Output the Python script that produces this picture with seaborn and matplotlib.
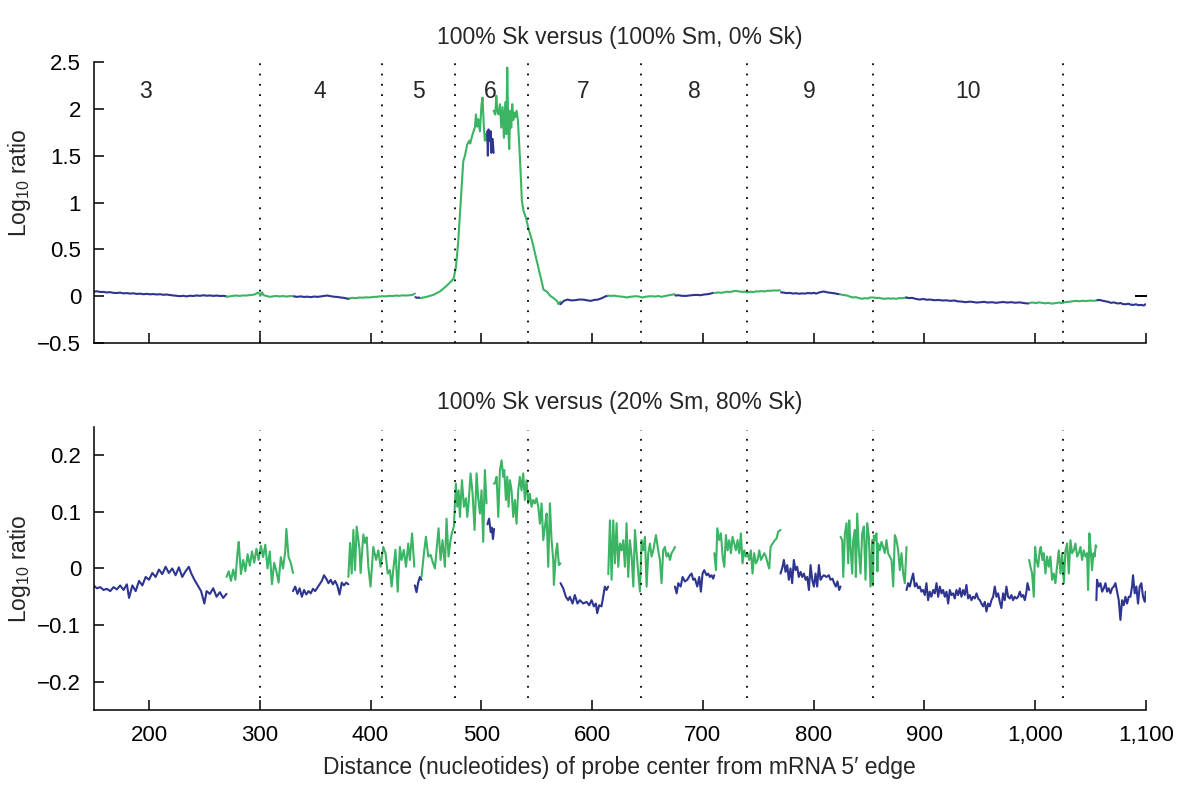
import pandas as pd
import seaborn as sns
import matplotlib.pyplot as plt

# ---- top panel: 100% Sk vs (100% Sm, 0% Sk), one list pair per probe segment ----
top_x1 = [150, 153, 156, 159, 162, 165, 168, 171, 174, 177, 180, 183, 186, 189, 192, 195, 198, 201, 204, 207,
          210, 213, 216, 219, 222, 225, 228, 231, 234, 237, 240, 243, 246, 249, 252, 255, 258, 261, 264, 267, 269.5]
top_y1 = [0.049, 0.052, 0.045, 0.046, 0.040, 0.043, 0.035, 0.034, 0.038, 0.030, 0.033, 0.028, 0.031, 0.024, 0.027,
          0.021, 0.025, 0.020, 0.023, 0.018, 0.021, 0.015, 0.018, 0.012, 0.008, 0.004, 0.000, 0.004, -0.002, 0.005,
          0.002, 0.008, 0.004, 0.010, 0.005, 0.008, 0.003, 0.007, 0.002, 0.004, 0.000]
top_x2 = [270, 273, 276, 279, 282, 285, 288, 291, 294, 296, 298, 299.5, 300.5, 302, 303.5, 306, 309, 312, 315, 318,
          321, 324, 327, 331]
top_y2 = [-0.007, -0.002, 0.004, 0.007, 0.003, 0.008, 0.007, 0.012, 0.015, 0.021, 0.038, 0.030, 0.003, 0.042, 0.010,
          0.003, -0.007, -0.002, 0.003, -0.003, 0.002, -0.004, 0.001, 0.000]
top_x3 = [331, 334, 337, 340, 343, 346, 349, 352, 355, 358, 361, 364, 367, 370, 373, 376, 379, 380.5]
top_y3 = [-0.003, -0.007, -0.002, -0.008, -0.005, -0.010, -0.004, -0.007, -0.003, 0.003, 0.007, 0.000, -0.006,
          -0.008, -0.014, -0.018, -0.026, -0.028]
top_x4 = [381, 384, 387, 390, 393, 396, 399, 402, 405, 408, 411, 414, 417, 420, 423, 426, 429, 432, 435, 438, 440]
top_y4 = [-0.021, -0.018, -0.021, -0.014, -0.016, -0.012, -0.014, -0.008, -0.007, -0.003, 0.000, -0.002, 0.004,
          0.002, 0.007, 0.004, 0.009, 0.007, 0.010, 0.014, 0.028]
top_x5 = [440.5, 442, 443.5, 445]
top_y5 = [-0.010, -0.018, -0.014, -0.021]
top_x6 = [445.1, 450.6, 456.6, 462.6, 468.6, 473.1, 475, 477.1, 479.2, 480.7, 482.2, 483.7, 485.2, 487.3, 489.1,
          490, 491.2, 492.7, 494.2, 495.1, 496.3, 497.2, 498.7, 500.2, 501.1, 502.3, 503.2, 504.1, 505.3]
top_y6 = [-0.020, -0.007, 0.014, 0.050, 0.110, 0.163, 0.19, 0.31, 0.59, 0.875, 1.16, 1.44, 1.50, 1.62, 1.66,
          1.63, 1.69, 1.75, 1.80, 1.94, 1.81, 1.89, 1.76, 2.05, 2.12, 1.80, 1.66, 1.73, 1.66]
top_x7 = [505.3, 505.9, 506.5, 507.2, 507.8, 508.4, 509.0, 510.2, 511.1]
top_y7 = [1.76, 1.50, 1.78, 1.75, 1.66, 1.76, 1.53, 1.68, 1.53]
top_x8 = [511.1, 512.6, 513.5, 514.4, 515.6, 516.8, 518.0, 519.2, 520.4, 521.6, 522.5, 523.4, 524.3, 525.2, 526.1,
          527.0, 527.9, 528.8, 529.7, 530.6, 531.8, 533.0, 534.2, 535.4, 536.6, 538.1, 540.2, 542.6, 545.6, 548.6,
          551.6, 554.6, 556.1, 559.1, 562.2, 565.2, 568.2, 569.7, 571.2]
top_y8 = [1.98, 1.94, 2.14, 1.98, 1.94, 2.05, 1.80, 2.02, 1.69, 2.07, 1.73, 2.44, 1.80, 1.57, 1.98,
          1.80, 2.05, 1.88, 1.96, 1.91, 1.98, 1.88, 1.62, 1.34, 1.02, 0.91, 0.84, 0.72, 0.60, 0.45,
          0.30, 0.15, 0.07, 0.050, 0.003, -0.020, -0.050, -0.085, -0.060]
top_x9 = [571.5, 574.4, 577.8, 581, 584.7, 588, 591.6, 595, 598.5, 602, 605.4, 609, 612.3, 614.1]
top_y9 = [-0.086, -0.050, -0.036, -0.045, -0.043, -0.036, -0.036, -0.043, -0.050, -0.040, -0.036, -0.020, 0.000,
          0.003]
top_x10 = [614.1, 617, 620, 622.7, 626, 629, 631.3, 634, 637, 640, 643, 645.2, 648, 651, 653.8, 657, 660, 662.4,
           665, 668, 671.1, 674.5]
top_y10 = [0.007, 0.003, 0.006, 0.000, -0.004, -0.008, -0.014, -0.007, -0.003, 0.000, -0.006, -0.014, -0.006,
           -0.002, 0.000, -0.004, 0.002, -0.007, 0.000, 0.007, 0.014, 0.021]
top_x11 = [675.2, 678, 681, 684.9, 688, 691, 695.2, 698, 701, 703.9, 706, 709.1]
top_y11 = [0.007, 0.010, 0.004, 0.003, 0.008, 0.012, 0.014, 0.010, 0.018, 0.021, 0.025, 0.035]
top_x12 = [710.8, 714, 716, 719.4, 722, 725, 727, 729.8, 733, 736, 738, 740.1, 743, 746, 748, 750.5, 753, 756, 758,
           760.9, 764, 767, 769.5]
top_y12 = [0.035, 0.040, 0.036, 0.042, 0.048, 0.045, 0.052, 0.057, 0.050, 0.046, 0.049, 0.042, 0.048, 0.044, 0.052,
           0.050, 0.055, 0.050, 0.058, 0.057, 0.062, 0.060, 0.064]
top_x13 = [770.5, 773, 776, 778, 781.6, 784, 787, 789, 792, 795, 798, 800, 802.3, 805, 807, 809.2, 812, 814, 816.1,
           819, 821, 823]
top_y13 = [0.042, 0.038, 0.032, 0.036, 0.028, 0.032, 0.026, 0.030, 0.028, 0.034, 0.030, 0.036, 0.028, 0.040, 0.046,
           0.050, 0.042, 0.038, 0.035, 0.030, 0.025, 0.021]
top_x14 = [823.7, 826, 829, 831, 833.4, 836, 838, 841, 843.8, 846, 849, 851, 854.1, 857, 859, 861, 864.5, 867, 869,
           872, 874.9, 877, 880, 883.5]
top_y14 = [0.021, 0.014, 0.010, 0.003, -0.007, -0.014, -0.010, -0.021, -0.028, -0.021, -0.025, -0.014, -0.014,
           -0.020, -0.016, -0.024, -0.028, -0.022, -0.026, -0.024, -0.028, -0.020, -0.022, -0.014]
top_x15 = [883.5, 886, 889, 892, 895.6, 899, 902, 905, 909.4, 913, 916, 920, 923.2, 927, 930, 934, 937, 941, 944,
           947, 950.8, 954, 957, 961, 964.7, 968, 971, 975, 978.5, 982, 986, 990, 994]
top_y15 = [-0.014, -0.020, -0.018, -0.028, -0.036, -0.030, -0.038, -0.036, -0.043, -0.040, -0.046, -0.044, -0.050,
           -0.046, -0.055, -0.058, -0.064, -0.058, -0.062, -0.068, -0.064, -0.060, -0.068, -0.064, -0.071, -0.066,
           -0.062, -0.068, -0.064, -0.070, -0.066, -0.074, -0.078]
top_x16 = [995.1, 998, 1001, 1003, 1006.1, 1009, 1012, 1014, 1016.5, 1019, 1022, 1024, 1026.8, 1030, 1033, 1035,
           1037.2, 1040, 1043, 1045, 1047.5, 1050, 1053, 1056.2]
top_y16 = [-0.071, -0.068, -0.074, -0.066, -0.071, -0.076, -0.070, -0.078, -0.078, -0.072, -0.068, -0.074, -0.064,
           -0.060, -0.056, -0.052, -0.050, -0.054, -0.048, -0.052, -0.050, -0.046, -0.050, -0.043]
top_x17 = [1056.2, 1058, 1061.4, 1064, 1066, 1068.3, 1071, 1073, 1075.2, 1077, 1079, 1082.1, 1084, 1086, 1089, 1091,
           1093, 1095.9, 1098, 1099.4]
top_y17 = [-0.043, -0.040, -0.050, -0.056, -0.060, -0.071, -0.066, -0.074, -0.078, -0.072, -0.084, -0.086, -0.080,
           -0.090, -0.093, -0.086, -0.096, -0.093, -0.100, -0.086]

# ---- bottom panel: 100% Sk vs (20% Sm, 80% Sk) ----
bot_x1 = [150, 153, 156, 159, 162, 165, 168, 171, 174, 177, 180, 182, 185, 188, 191, 194, 197, 200, 203, 206, 209,
          212, 215, 218, 221, 224, 227, 230, 233, 236, 238, 241, 244, 247, 250, 252, 255, 258, 261, 264, 267, 270]
bot_y1 = [-0.030, -0.035, -0.033, -0.038, -0.036, -0.040, -0.033, -0.037, -0.030, -0.038, -0.028, -0.052, -0.030,
          -0.040, -0.022, -0.030, -0.015, -0.020, -0.008, -0.015, -0.002, -0.010, 0.003, -0.008, 0.000, -0.012,
          0.002, -0.015, -0.005, 0.003, -0.008, -0.020, -0.030, -0.040, -0.062, -0.040, -0.045, -0.035, -0.050,
          -0.042, -0.052, -0.045]
bot_x2 = [270, 272, 274, 276, 278, 280, 281, 283, 285, 287, 289, 291, 293, 295, 297, 299, 301, 303, 305, 307, 309,
          311, 313, 315, 317, 319, 321, 323, 324, 326, 328, 330]
bot_y2 = [-0.015, -0.005, -0.022, -0.002, -0.020, 0.030, 0.047, -0.010, 0.015, -0.005, 0.025, 0.005, 0.030, 0.010,
          0.035, 0.015, 0.040, 0.020, 0.042, 0.000, 0.030, -0.028, 0.010, -0.005, -0.025, 0.020, 0.000, 0.030,
          0.070, 0.020, 0.010, -0.008]
bot_x3 = [330, 332, 334, 336, 338, 340, 342, 344, 346, 348, 350, 352, 354, 356, 358, 360, 362, 364, 366, 368, 370,
          372, 374, 376, 378, 380]
bot_y3 = [-0.040, -0.032, -0.045, -0.035, -0.050, -0.038, -0.046, -0.040, -0.044, -0.036, -0.040, -0.034, -0.028,
          -0.022, -0.012, -0.018, -0.026, -0.020, -0.028, -0.022, -0.030, -0.046, -0.025, -0.030, -0.025, -0.028]
bot_x4 = [380, 381.5, 383, 384.5, 386, 387.5, 390, 391, 393.5, 395, 396.5, 398, 400, 402.5, 405, 407, 409, 411.5,
          413.5, 415.5, 417.5, 419, 420.5, 422.5, 424.5, 426.5, 428, 430, 432, 434, 435.5, 437.5, 439.5]
bot_y4 = [-0.015, 0.045, -0.009, 0.068, -0.003, 0.074, 0.035, -0.008, 0.060, 0.045, 0.055, 0.003, -0.032, 0.038,
          0.015, 0.032, 0.003, 0.038, 0.027, -0.009, -0.003, -0.032, -0.003, 0.033, -0.041, 0.038, 0.015, 0.033,
          0.003, 0.044, 0.015, 0.062, 0.003]
bot_x5 = [440, 441.5, 443, 444.5, 446]
bot_y5 = [-0.030, -0.042, -0.025, -0.015, -0.020]
bot_x6 = [446, 448.2, 450, 452.1, 454.2, 456, 458.1, 459.6, 461.4, 463.2, 465, 467.1, 468.6, 470.4, 472.2, 473.4,
          475.2, 477, 478.3, 479.5, 480.7, 482.5, 484.3, 486.1, 487.3, 488.5, 490.3, 492.1, 493.9, 495.7, 497.2,
          498.7, 500.2, 501.7, 503.2, 504.7]
bot_y6 = [-0.015, 0.027, 0.056, 0.021, 0.024, 0.012, 0.000, 0.033, 0.071, 0.015, 0.050, 0.003, 0.088, 0.021,
          0.050, 0.062, 0.074, 0.150, 0.109, 0.138, 0.091, 0.156, 0.109, 0.124, 0.091, 0.115, 0.168, 0.132,
          0.068, 0.168, 0.124, 0.097, 0.138, 0.047, 0.174, 0.115]
bot_x7 = [505.5, 507, 508.5, 509.5, 510.5, 511.5]
bot_y7 = [0.078, 0.088, 0.064, 0.072, 0.052, 0.070]
bot_x8 = [511.3, 512.2, 513.8, 515.3, 516.8, 518.3, 519.8, 520.7, 522.2, 523.4, 524.6, 525.8, 527.3, 528.8, 530.3,
          531.8, 533.3, 534.8, 536.3, 537.8, 539.3, 540.8, 542.3, 543.8, 545.3, 546.8, 548.3, 549.8, 551.4, 552.9,
          554.4, 555.9, 557.4, 558.9, 560.4, 561.9, 563.4, 564.9, 565.5, 567.3, 568.5, 570, 571.5]
bot_y8 = [0.150, 0.150, 0.162, 0.091, 0.174, 0.191, 0.162, 0.174, 0.121, 0.162, 0.109, 0.156, 0.138, 0.091, 0.121,
          0.079, 0.138, 0.162, 0.138, 0.168, 0.121, 0.156, 0.115, 0.132, 0.109, 0.121, 0.115, 0.124, 0.109, 0.079,
          0.115, 0.050, 0.074, 0.097, 0.003, 0.115, 0.050, 0.015, -0.029, 0.027, 0.044, 0.006, 0.009]
bot_x9 = [571.5, 573.9, 576.3, 578.4, 579.9, 582.3, 584.4, 586.8, 588.9, 592, 595, 597.4, 599.5, 601.6, 603.4,
          604.6, 606.4, 608.5, 610, 611.5, 613, 614.5]
bot_y9 = [-0.026, -0.035, -0.050, -0.056, -0.050, -0.062, -0.047, -0.062, -0.056, -0.062, -0.059, -0.065, -0.056,
          -0.067, -0.062, -0.079, -0.065, -0.067, -0.050, -0.032, -0.038, -0.032]
bot_x10 = [614.6, 616.1, 617.6, 619.1, 620.6, 622.1, 623.6, 625.1, 626.6, 628.1, 629.6, 631.1, 632.6, 634.1, 635.7,
           637.2, 638.7, 640.2, 641.7, 643.2, 644.7, 646.2, 647.7, 649.2, 650.7, 652.2, 653.7, 655.2, 657.6, 659.7,
           661.2, 662.7, 664.2, 665.7, 667.2, 668.7, 670.3, 671.7, 673.3, 674.8]
bot_y10 = [-0.010, 0.085, -0.020, 0.085, 0.009, 0.080, 0.003, 0.044, 0.032, 0.050, 0.003, 0.080, -0.015, 0.050,
           0.021, -0.032, 0.068, 0.027, -0.009, -0.041, 0.050, 0.032, 0.056, -0.032, 0.027, 0.044, 0.021, 0.032,
           0.059, 0.032, 0.015, -0.026, 0.032, 0.038, 0.021, 0.027, 0.015, 0.027, 0.032, 0.038]
bot_x11 = [674.8, 676.3, 677.8, 679.9, 681.7, 683.8, 685.9, 688.3, 689.8, 691.3, 692.8, 694.9, 696.7, 698.2, 699.7,
           701.2, 703.3, 704.8, 706.3, 707.8, 709.3, 710.2]
bot_y11 = [-0.032, -0.044, -0.026, -0.032, -0.015, -0.023, -0.020, -0.012, -0.009, -0.020, -0.018, -0.032, -0.015,
           -0.041, -0.009, -0.003, -0.012, -0.009, -0.015, -0.012, -0.018, -0.012]
bot_x12 = [710.3, 711.8, 713, 714.8, 716.3, 717.8, 719.3, 720.8, 722.3, 723.8, 725.3, 726.8, 728.3, 729.8, 731.3,
           732.8, 734.3, 735.8, 737.3, 738.8, 740.3, 741.8, 743.3, 744.8, 746.3, 747.9, 749.4, 750.9, 752.4, 753.9,
           755.4, 756.9, 758.4, 759.9, 761.1, 762.9, 765, 766.5, 768, 770.1]
bot_y12 = [0.027, -0.003, 0.071, 0.050, 0.062, 0.021, 0.003, 0.059, 0.032, 0.050, 0.027, 0.056, 0.044, 0.032,
           0.050, 0.027, 0.062, 0.009, 0.032, 0.021, 0.027, 0.015, 0.032, -0.009, 0.027, 0.009, 0.015, 0.032,
           0.015, 0.021, 0.027, 0.021, 0.009, 0.000, 0.038, 0.044, 0.050, 0.053, 0.065, 0.068]
bot_x13 = [770.1, 771.9, 773.1, 774.6, 776.1, 777.6, 779.1, 780.6, 782.1, 783.6, 785.1, 786.6, 788.2, 789.7, 791.2,
           792.7, 794.2, 795.7, 797.2, 798.7, 800.2, 801.7, 803.2, 804.7, 806.2, 807.7, 809.2, 811.6, 813.7, 815.2,
           817, 818.5, 820, 821.5, 823, 824.3]
bot_y13 = [-0.009, 0.003, 0.015, -0.006, 0.006, -0.020, 0.000, -0.026, 0.015, -0.003, 0.003, -0.015, -0.006,
           -0.015, -0.009, -0.020, -0.015, -0.038, 0.006, -0.020, -0.032, -0.009, -0.032, 0.006, -0.020, -0.015,
           -0.012, -0.015, -0.012, -0.020, -0.018, -0.026, -0.032, -0.023, -0.038, -0.032]
bot_x14 = [824.3, 825.8, 826.7, 828.2, 829.7, 831.2, 832.1, 833.3, 834.8, 835.7, 837.2, 838.1, 839.3, 840.8, 842.3,
           843.8, 845.3, 846.8, 848.3, 849.8, 851.3, 852.8, 853.5, 854.3, 855.2, 856.7, 857.5, 858.2, 859.7, 861.2,
           862.7, 864.2, 865.7, 867.2, 868.7, 870.3, 871.8, 873.3, 874.8, 876.3, 877.8, 879.3, 880.8, 882.3, 883.8]
bot_y14 = [0.056, 0.050, -0.015, 0.062, 0.080, 0.009, 0.085, 0.038, -0.009, 0.050, 0.068, -0.015, 0.097, 0.032,
           -0.009, 0.062, 0.074, -0.020, 0.080, 0.056, -0.032, 0.050, -0.030, 0.058, 0.050, 0.062, -0.005, 0.044,
           0.032, 0.047, 0.038, 0.027, 0.050, 0.027, 0.021, 0.015, -0.032, 0.059, 0.050, 0.032, -0.003, 0.027,
           -0.009, -0.026, 0.038]
bot_x15 = [883.8, 885.3, 886.8, 888.3, 889.8, 891.3, 892.8, 894.3, 895.8, 897.3,
           898.8, 900.3, 901.8, 903.3, 904.8, 906.3, 907.9, 909.4, 910.9, 912.4,
           913.9, 915.4, 916.9, 918.4, 919.9, 921.4, 922.9, 924.4, 925.9, 927.4,
           928.9, 930.4, 931.9, 933.4, 934.9, 936.4, 937.9, 939.4, 940.9, 942.4,
           943.9, 945.5, 947, 948.5, 950, 951.5, 953, 954.5, 956, 957.5,
           959, 960.5, 962, 963.5, 965, 966.5, 968, 969.5, 971, 972.5,
           974, 975.5, 977, 978.5, 980, 981.5, 983.1, 984.6, 986.1, 987.6,
           989.1, 990.6, 992.1, 993, 994.5]
bot_y15 = [-0.038, -0.026, -0.032, -0.020, -0.009, -0.032, -0.026, -0.035, -0.032, -0.041,
           -0.038, -0.047, -0.026, -0.056, -0.041, -0.050, -0.038, -0.044, -0.026, -0.050,
           -0.032, -0.044, -0.038, -0.050, -0.041, -0.062, -0.038, -0.047, -0.044, -0.053,
           -0.038, -0.047, -0.035, -0.050, -0.038, -0.047, -0.029, -0.053, -0.047, -0.056,
           -0.050, -0.053, -0.044, -0.053, -0.056, -0.062, -0.067, -0.059, -0.076, -0.062,
           -0.067, -0.056, -0.050, -0.032, -0.050, -0.044, -0.059, -0.070, -0.044, -0.056,
           -0.032, -0.050, -0.053, -0.047, -0.056, -0.050, -0.053, -0.050, -0.041, -0.050,
           -0.047, -0.056, -0.041, -0.026, -0.038]
bot_x16 = [994.5, 995.7, 997.2, 998.7, 999.9, 1001.1, 1002.6, 1004.1, 1005, 1006.5, 1007.7, 1009.2, 1010.7,
           1012.2, 1013.7, 1015.2, 1016.7, 1018.2, 1019.7, 1021.3, 1022.8, 1024.3, 1025.8, 1027.3, 1028.8, 1030.3,
           1031.8, 1033.3, 1034.8, 1036.3, 1037.8, 1039.3, 1040.8, 1042.3, 1043.8, 1045.3, 1046.8, 1047.7, 1048.9,
           1050.1, 1051.3, 1052.5, 1053.7, 1054.6, 1055.2]
bot_y16 = [0.015, 0.003, -0.009, -0.050, 0.038, 0.015, 0.003, 0.032, 0.038, 0.015, 0.027, -0.009, 0.021, 0.003,
           0.021, -0.020, -0.009, -0.026, 0.003, 0.032, -0.009, 0.027, -0.026, 0.032, 0.044, -0.009, 0.050, 0.027,
           0.032, 0.044, 0.021, 0.027, 0.038, 0.015, 0.032, 0.021, 0.027, -0.038, 0.062, 0.032, -0.003, 0.027,
           0.021, 0.041, 0.038]
bot_x17 = [1055.2, 1055.8, 1057.3, 1058.9, 1060.4, 1061.9, 1063.4, 1064.9, 1066.4, 1067.9, 1069.4, 1070.9, 1072.4,
           1073.9, 1075.4, 1076.9, 1078.4, 1079.9, 1081.4, 1082.9, 1084.4, 1085.9, 1087.4, 1088.3, 1089.8, 1091.3,
           1092.8, 1094.3, 1095.8, 1097.3, 1098.9, 1099.8, 1100.4]
bot_y17 = [-0.056, -0.020, -0.032, -0.026, -0.041, -0.035, -0.026, -0.041, -0.035, -0.044, -0.035, -0.032, -0.026,
           -0.041, -0.056, -0.091, -0.056, -0.065, -0.050, -0.062, -0.050, -0.050, -0.032, -0.012, -0.044, -0.032,
           -0.062, -0.032, -0.026, -0.050, -0.059, -0.041, -0.047]

# exon boundaries (dotted lines) and exon numbers
exon_bounds = [300, 410.5, 476, 542, 644.5, 739.5, 854, 1025]
exon_names = ['3', '4', '5', '6', '7', '8', '9', '10']
exon_label_x = [197, 354, 443, 508, 592, 692, 796, 939]
exon_label_y = 2.19

x_ticks = [200, 300, 400, 500, 600, 700, 800, 900, 1000, 1100]
x_tick_labels = ['200', '300', '400', '500', '600', '700', '800', '900', '1,000', '1,100']
top_y_ticks = [-0.5, 0, 0.5, 1, 1.5, 2, 2.5]
top_y_labels = ['\u22120.5', '0', '0.5', '1', '1.5', '2', '2.5']
bot_y_ticks = [-0.2, -0.1, 0, 0.1, 0.2]
bot_y_labels = ['\u22120.2', '\u22120.1', '0', '0.1', '0.2']

end_mark_x = [1095.5]
end_mark_y = [0.0]

BLUE = '#2d3590'
GREEN = '#3bb463'

top_segs = [(top_x1, top_y1), (top_x2, top_y2), (top_x3, top_y3), (top_x4, top_y4), (top_x5, top_y5),
            (top_x6, top_y6), (top_x7, top_y7), (top_x8, top_y8), (top_x9, top_y9), (top_x10, top_y10),
            (top_x11, top_y11), (top_x12, top_y12), (top_x13, top_y13), (top_x14, top_y14), (top_x15, top_y15),
            (top_x16, top_y16), (top_x17, top_y17)]
bot_segs = [(bot_x1, bot_y1), (bot_x2, bot_y2), (bot_x3, bot_y3), (bot_x4, bot_y4), (bot_x5, bot_y5),
            (bot_x6, bot_y6), (bot_x7, bot_y7), (bot_x8, bot_y8), (bot_x9, bot_y9), (bot_x10, bot_y10),
            (bot_x11, bot_y11), (bot_x12, bot_y12), (bot_x13, bot_y13), (bot_x14, bot_y14), (bot_x15, bot_y15),
            (bot_x16, bot_y16), (bot_x17, bot_y17)]


def seg_frame(segs):
    parts = []
    for i, (xs, ys) in enumerate(segs):
        parts.append(pd.DataFrame({'pos': xs, 'ratio': ys, 'seg': 's%02d' % (i + 1)}))
    return pd.concat(parts, ignore_index=True)


df_top = seg_frame(top_segs)
df_bot = seg_frame(bot_segs)
pal = {'s%02d' % (i + 1): (BLUE if i % 2 == 0 else GREEN) for i in range(17)}

sns.set_theme(style='ticks', rc={'xtick.direction': 'in', 'ytick.direction': 'in',
                                 'xtick.major.size': 7, 'ytick.major.size': 7,
                                 'xtick.major.width': 1.1, 'ytick.major.width': 1.1,
                                 'axes.linewidth': 1.1, 'axes.edgecolor': 'black',
                                 'xtick.color': 'black', 'ytick.color': 'black'})
plt.rcParams['font.family'] = ['Liberation Sans', 'DejaVu Sans']
plt.rcParams['mathtext.fontset'] = 'custom'
plt.rcParams['mathtext.rm'] = 'Liberation Sans'
plt.rcParams['mathtext.it'] = 'Liberation Sans'

FS = 16.5   # titles, axis labels, exon numbers
TS = 16     # tick labels
fig = plt.figure(figsize=(12, 7.97), dpi=100)
ax1 = fig.add_axes([0.078, 0.5696, 0.877, 0.3526])
ax2 = fig.add_axes([0.078, 0.1092, 0.877, 0.3551])

for ax, df in [(ax1, df_top), (ax2, df_bot)]:
    sns.lineplot(data=df, x='pos', y='ratio', hue='seg', palette=pal, estimator=None, sort=False,
                 legend=False, lw=1.5, ax=ax)
    ax.set_xlim(150, 1100)
    ax.set_xticks(x_ticks)
    ax.set_xticklabels(x_tick_labels)
    ax.tick_params(labelsize=TS, pad=9)
    ax.tick_params(axis='x', pad=11)
    sns.despine(ax=ax)

for xb in exon_bounds:
    ax1.axvline(xb, ymin=0, ymax=0.995, color='black', lw=1.3, ls=(0, (1, 4.7)))
    ax2.axvline(xb, ymin=0.042, ymax=0.989, color='black', lw=1.3, ls=(0, (1, 4.7)))

for name, xl in zip(exon_names, exon_label_x):
    ax1.text(xl, exon_label_y, name, ha='center', va='center', fontsize=FS)

ax1.plot(end_mark_x, end_mark_y, marker='_', ms=8, mew=1.4, color='black', ls='none')

ax1.set_ylim(-0.5, 2.5)
ax1.set_yticks(top_y_ticks)
ax1.set_yticklabels(top_y_labels)
ax1.tick_params(labelbottom=False)
ax1.set_xlabel('')
ax1.set_ylabel('Log$_{10}$ ratio', fontsize=FS)
ax1.yaxis.set_label_coords(-0.058, 0.57)
ax1.set_title('100% Sk versus (100% Sm, 0% Sk)', fontsize=FS, pad=13)

ax2.set_ylim(-0.25, 0.25)
ax2.set_yticks(bot_y_ticks)
ax2.set_yticklabels(bot_y_labels)
ax2.set_ylabel('Log$_{10}$ ratio', fontsize=FS)
ax2.yaxis.set_label_coords(-0.058, 0.5)
ax2.set_xlabel('Distance (nucleotides) of probe center from mRNA 5\u2032 edge', fontsize=FS, labelpad=7)
ax2.set_title('100% Sk versus (20% Sm, 80% Sk)', fontsize=FS, pad=13)

fig.savefig('out.png', dpi=100)
